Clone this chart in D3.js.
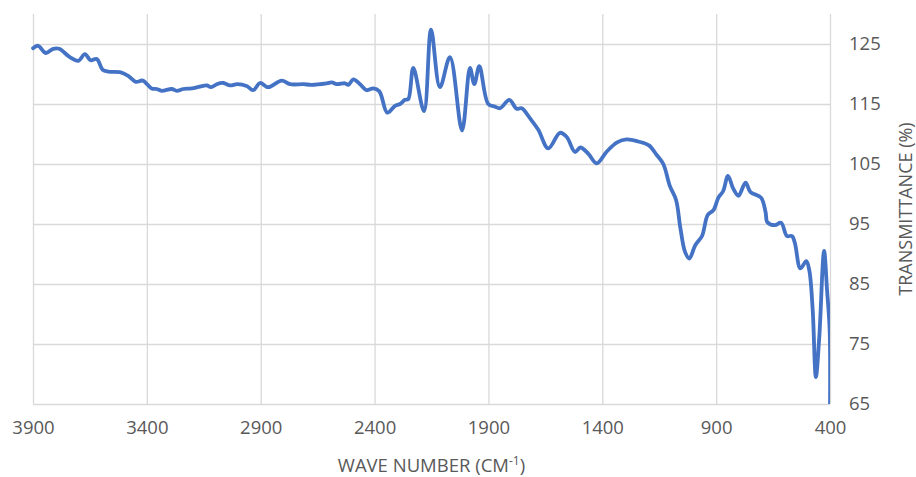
<!DOCTYPE html>
<html>
<head>
<meta charset="utf-8">
<script src="https://cdn.jsdelivr.net/npm/d3@7"></script>
<style>
  html, body { margin: 0; padding: 0; background: #fff; }
  svg { display: block; }
</style>
</head>
<body>
<svg id="chart" width="916" height="477"></svg>
<script>
// Data (wavenumber cm-1, transmittance %)
const waveNumbers = [3900, 3877, 3844, 3811, 3785, 3738, 3701, 3672, 3647, 3620, 3594, 3569, 3518, 3482, 3448, 3418, 3379, 3357, 3335, 3291, 3269, 3240, 3203, 3167, 3137, 3118, 3093, 3064, 3035, 3003, 2962, 2933, 2903, 2867, 2808, 2771, 2713, 2676, 2610, 2588, 2566, 2530, 2515, 2493, 2464, 2435, 2406, 2379, 2344, 2310, 2288, 2266, 2252, 2230, 2183, 2152, 2113, 2069, 2016, 1981, 1962, 1940, 1901, 1871, 1849, 1808, 1776, 1754, 1717, 1681, 1637, 1586, 1556, 1520, 1496, 1461, 1424, 1381, 1335, 1293, 1242, 1195, 1161, 1132, 1103, 1076, 1057, 1037, 1018, 991, 962, 937, 912, 890, 869, 848, 825, 802, 771, 749, 703, 683, 675, 642, 615, 589, 567, 554, 530, 504, 491, 476, 462, 447, 426, 413, 401.5, 400];
const transmittance = [124.3, 124.7, 123.5, 124.2, 124.2, 122.8, 122.2, 123.3, 122.3, 122.5, 120.7, 120.4, 120.3, 119.7, 118.7, 118.9, 117.6, 117.5, 117.2, 117.5, 117.2, 117.5, 117.6, 117.9, 118.1, 117.8, 118.3, 118.5, 118.1, 118.3, 118.0, 117.3, 118.5, 117.8, 118.9, 118.3, 118.3, 118.2, 118.45, 118.6, 118.3, 118.45, 118.2, 119.1, 118.3, 117.3, 117.6, 117.1, 113.55, 114.7, 115.0, 115.7, 115.8, 121.0, 113.8, 127.4, 117.8, 122.8, 110.6, 121.0, 118.3, 121.3, 115.0, 114.55, 114.3, 115.7, 114.2, 114.3, 112.6, 110.7, 107.6, 110.2, 109.5, 107.0, 107.75, 106.7, 105.1, 107.05, 108.6, 109.1, 108.75, 108.1, 106.5, 105.0, 101.3, 99.0, 94.3, 90.4, 89.25, 91.5, 93.0, 96.5, 97.3, 99.4, 100.5, 103.0, 100.9, 99.7, 101.9, 100.3, 99.4, 97.0, 95.3, 94.8, 95.2, 93.0, 93.0, 91.8, 87.6, 88.8, 87.3, 80.7, 69.5, 76.2, 90.5, 84, 77.3, 64];

const xTicks = [3900, 3400, 2900, 2400, 1900, 1400, 900, 400];
const yTicks = [65, 75, 85, 95, 105, 115, 125];
const xTitle = "WAVE NUMBER (CM";
const yTitle = "TRANSMITTANCE (%)";

const svg = d3.select("#chart");
const m = { left: 33, right: 830, top: 14, bottom: 404 };
const x = d3.scaleLinear().domain([3900, 400]).range([m.left, m.right]);
const y = d3.scaleLinear().domain([65, 130]).range([m.bottom, m.top]);

const font = "'Open Sans', 'Liberation Sans', sans-serif";
const textColor = "#595959";
const gridColor = "#D9D9D9";

// horizontal gridlines
svg.append("g")
  .attr("transform", `translate(${m.left},0)`)
  .call(d3.axisLeft(y).tickValues(yTicks).tickSize(-(m.right - m.left)).tickFormat(""))
  .call(g => g.select(".domain").remove())
  .call(g => g.selectAll("line").attr("stroke", gridColor).attr("stroke-width", 1.3));

// vertical gridlines
svg.append("g")
  .attr("transform", `translate(0,${m.bottom})`)
  .call(d3.axisBottom(x).tickValues(xTicks).tickSize(-(m.bottom - m.top)).tickFormat(""))
  .call(g => g.select(".domain").remove())
  .call(g => g.selectAll("line").attr("stroke", gridColor).attr("stroke-width", 1.3));

// x tick labels
svg.append("g")
  .attr("transform", `translate(0,${m.bottom})`)
  .call(d3.axisBottom(x).tickValues(xTicks).tickSize(0).tickPadding(17).tickFormat(d3.format("d")))
  .call(g => g.select(".domain").remove())
  .call(g => g.selectAll("text").attr("fill", textColor).attr("font-family", font).attr("font-size", 18.5));

// y tick labels (right side)
svg.append("g")
  .attr("transform", `translate(${m.right},0)`)
  .call(d3.axisRight(y).tickValues(yTicks).tickSize(0).tickPadding(19).tickFormat(d3.format("d")))
  .call(g => g.select(".domain").remove())
  .call(g => g.selectAll("text").attr("fill", textColor).attr("font-family", font).attr("font-size", 18.5));

// clip
svg.append("clipPath").attr("id", "clip")
  .append("rect").attr("x", m.left - 3).attr("y", m.top).attr("width", m.right - m.left + 3).attr("height", m.bottom - m.top);

const data = waveNumbers.map((w, i) => [w, transmittance[i]]);
const line = d3.line()
  .x(d => x(d[0]))
  .y(d => y(d[1]))
  .curve(d3.curveCatmullRom.alpha(0.5));

svg.append("path")
  .datum(data)
  .attr("clip-path", "url(#clip)")
  .attr("fill", "none")
  .attr("stroke", "#4472C4")
  .attr("stroke-width", 3.8)
  .attr("stroke-linejoin", "round")
  .attr("stroke-linecap", "round")
  .attr("d", line);

// x title
const xt = svg.append("text")
  .attr("x", (m.left + m.right) / 2)
  .attr("y", 472)
  .attr("text-anchor", "middle")
  .attr("fill", textColor)
  .attr("font-family", font)
  .attr("font-size", 18.5);
xt.append("tspan").text(xTitle);
xt.append("tspan").attr("dy", -7).attr("font-size", 12).text("-1");
xt.append("tspan").attr("dy", 7).text(")");

// y title
svg.append("text")
  .attr("transform", `translate(912,${(m.top + m.bottom) / 2}) rotate(-90)`)
  .attr("text-anchor", "middle")
  .attr("fill", textColor)
  .attr("font-family", font)
  .attr("font-size", 18)
  .text(yTitle);
</script>
</body>
</html>
